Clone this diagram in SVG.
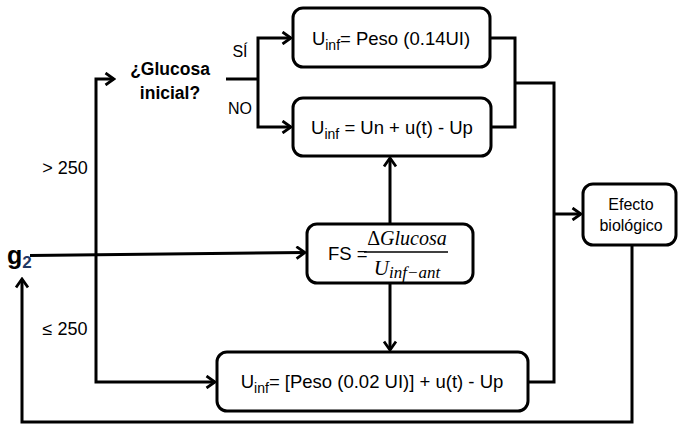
<svg xmlns="http://www.w3.org/2000/svg" width="678" height="427" viewBox="0 0 678 427">
<style>
.box{fill:#fff;stroke:#000;stroke-width:3}
.ln{fill:none;stroke:#000;stroke-width:3;stroke-linejoin:miter}
.t{font-family:"Liberation Sans",Arial,sans-serif;fill:#000}
.m{font-family:"Liberation Serif","DejaVu Serif",serif;font-style:italic;fill:#000}
</style>
<defs>
<marker id="arr" viewBox="0 0 12 14" refX="10" refY="7" markerWidth="12" markerHeight="14" markerUnits="userSpaceOnUse" orient="auto">
<path d="M1.5,1 L10,7 L1.5,13" fill="none" stroke="#000" stroke-width="2.8"/>
</marker>
</defs>
<rect width="678" height="427" fill="#fff"/>
<g id="connectors">
<path class="ln" d="M30,255.5 L305,252.5" marker-end="url(#arr)"/>
<path class="ln" d="M96,230 V79 H114" marker-end="url(#arr)"/>
<path class="ln" d="M96,230 V382 H215" marker-end="url(#arr)"/>
<path class="ln" d="M226,79 H258"/>
<path class="ln" d="M258,79 V38 H291" marker-end="url(#arr)"/>
<path class="ln" d="M258,79 V127 H291" marker-end="url(#arr)"/>
<path class="ln" d="M490,38 H515 V127 H491"/>
<path class="ln" d="M515,83 H554 V382 H528"/>
<path class="ln" d="M554,214 H581" marker-end="url(#arr)"/>
<path class="ln" d="M632,245 V422 H22 V279" marker-end="url(#arr)"/>
<path class="ln" d="M390,224 V158" marker-end="url(#arr)"/>
<path class="ln" d="M390,283 V350" marker-end="url(#arr)"/>
</g>
<g id="g2">
<text class="t" x="7" y="264" font-size="25" font-weight="bold">g<tspan font-size="17" dy="4" fill="#1f3864">2</tspan></text>
</g>
<g id="decision">
<text class="t" x="170" y="75" font-size="17.5" font-weight="bold" text-anchor="middle">¿Glucosa</text>
<text class="t" x="170" y="99" font-size="17.5" font-weight="bold" text-anchor="middle">inicial?</text>
</g>
<g id="labels">
<text class="t" x="240" y="57" font-size="16" text-anchor="middle">SÍ</text>
<text class="t" x="240" y="114" font-size="16" text-anchor="middle">NO</text>
<text class="t" x="65" y="174" font-size="18" text-anchor="middle">&gt; 250</text>
<text class="t" x="65" y="335" font-size="18" text-anchor="middle">≤ 250</text>
</g>
<g id="box1">
<rect class="box" x="293" y="8" width="197" height="59" rx="10"/>
<text class="t" x="391" y="45" font-size="18.5" text-anchor="middle">U<tspan font-size="14" dy="5">inf</tspan><tspan dy="-5">= Peso (0.14UI)</tspan></text>
</g>
<g id="box2">
<rect class="box" x="293" y="98" width="198" height="58" rx="10"/>
<text class="t" x="392" y="134" font-size="18.5" text-anchor="middle">U<tspan font-size="14" dy="5">inf</tspan><tspan dy="-5"> = Un + u(t) - Up</tspan></text>
</g>
<g id="fs">
<rect class="box" x="307" y="224" width="166" height="59" rx="10"/>
<text class="t" x="328" y="260" font-size="18.5">FS =</text>
<line x1="364" y1="252" x2="448" y2="252" stroke="#000" stroke-width="1.5"/>
<text class="m" x="407" y="245" font-size="20" text-anchor="middle"><tspan font-style="normal">Δ</tspan>Glucosa</text>
<text class="m" x="407" y="275" font-size="21" text-anchor="middle">U<tspan font-size="17" dy="3">inf−ant</tspan></text>
</g>
<g id="bottom">
<rect class="box" x="217" y="352" width="311" height="59" rx="10"/>
<text class="t" x="372" y="388" font-size="18.5" text-anchor="middle">U<tspan font-size="14" dy="5">inf</tspan><tspan dy="-5">= [Peso (0.02 UI)] + u(t) - Up</tspan></text>
</g>
<g id="efecto">
<rect class="box" x="583" y="184" width="93" height="61" rx="10"/>
<text class="t" x="631" y="210" font-size="16" text-anchor="middle">Efecto</text>
<text class="t" x="631" y="231" font-size="16" text-anchor="middle">biológico</text>
</g>
</svg>
